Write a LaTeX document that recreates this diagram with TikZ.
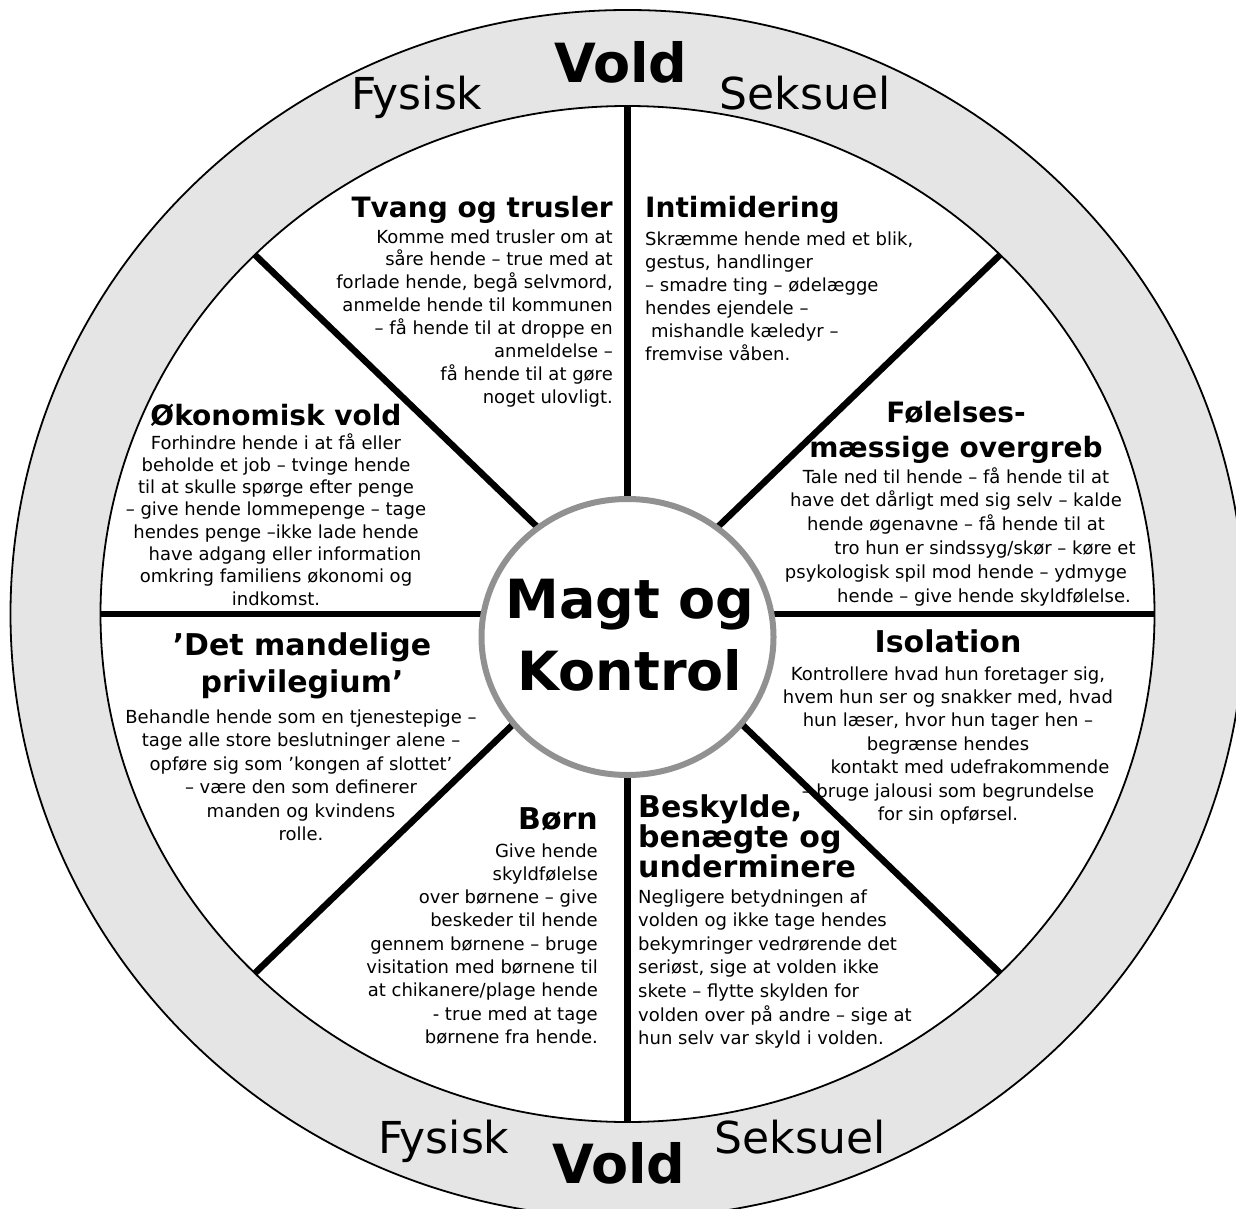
\documentclass[tikz,border=0pt]{standalone}
\usepackage{fontspec}
\setmainfont{DejaVu Sans}
\usetikzlibrary{calc}
\definecolor{ringgray}{RGB}{229,229,229}
\definecolor{hubgray}{RGB}{145,145,145}
\newcommand\bodyfnt{\fontsize{18}{22}\selectfont}
\newcommand\ttlfntA{\bfseries\fontsize{28}{30}\selectfont}
\newcommand\ttlfntB{\bfseries\fontsize{30}{32}\selectfont}
\newcommand\ringfnt{\fontsize{44}{48}\selectfont}
\newcommand\voldfnt{\bfseries\fontsize{54}{58}\selectfont}
\begin{document}
\begin{tikzpicture}[x=1pt,y=-1pt,
  body/.style={font=\bodyfnt, inner sep=0pt},
  ttla/.style={font=\ttlfntA, inner sep=0pt},
  ttlb/.style={font=\ttlfntB, inner sep=0pt},
  ringlbl/.style={font=\ringfnt, inner sep=0pt, anchor=base},
  voldlbl/.style={font=\voldfnt, inner sep=0pt, anchor=base},
  hubtxt/.style={font=\voldfnt, inner sep=0pt, anchor=base},
  spoke/.style={line width=6.5pt},
  rim/.style={draw=black, line width=1.8pt}]
\clip (0,0) rectangle (1236,1209);
\fill[white] (0,0) rectangle (1236,1209);
\coordinate (C) at (627.5,614);
\coordinate (H) at (627.5,637);
% ring
\filldraw[rim, fill=ringgray] (C) ellipse [x radius=617pt, y radius=604pt];
\filldraw[rim, fill=white] (C) ellipse [x radius=527pt, y radius=508pt];
% ring labels
\node[ringlbl] (fysT) at (417,110) {Fysisk};
\node[ringlbl] (sekT) at (805,110) {Seksuel};
\node[voldlbl] (voldT) at (621,83) {Vold};
\node[ringlbl] (fysB) at (444,1153) {Fysisk};
\node[ringlbl] (sekB) at (800,1153) {Seksuel};
\node[voldlbl] (voldB) at (619,1183) {Vold};
% Tvang og trusler
\node[ttla, anchor=base east] (tvT) at (613,218) {Tvang og trusler};
\foreach \t [count=\i] in {{Komme med trusler om at},{såre hende – true med at},{forlade hende, begå selvmord,},{anmelde hende til kommunen},{– få hende til at droppe en},{anmeldelse –},{få hende til at gøre},{noget ulovligt.}}
  \node[body, anchor=base east] (tv\i) at (613,{243+22.9*(\i-1)}) {\t};
% Intimidering
\node[ttla, anchor=base west] (inT) at (645,218) {Intimidering};
\foreach \t [count=\i] in {{Skræmme hende med et blik,},{gestus, handlinger},{– smadre ting – ødelægge},{hendes ejendele –},{\hspace*{6pt}mishandle kæledyr –},{fremvise våben.}}
  \node[body, anchor=base west] (in\i) at (645,{245+23*(\i-1)}) {\t};
% Økonomisk vold
\node[ttla, anchor=base] (okT) at (276,425) {Økonomisk vold};
\foreach \t [count=\i] in {{Forhindre hende i at få eller},{beholde et job – tvinge hende},{til at skulle spørge efter penge},{– give hende lommepenge – tage},{hendes penge –ikke lade hende},{\hspace*{18pt}have adgang eller information},{omkring familiens økonomi og},{indkomst.}}
  \node[body, anchor=base] (ok\i) at (276,{449+22.3*(\i-1)}) {\t};
% Følelsesmæssige overgreb
\node[ttla, anchor=base] (foT1) at (956,422) {Følelses-};
\node[ttla, anchor=base] (foT2) at (956,457) {mæssige overgreb};
\foreach \t [count=\i] in {{Tale ned til hende – få hende til at},{have det dårligt med sig selv – kalde},{hende øgenavne – få hende til at},{\hspace*{58pt}tro hun er sindssyg/skør – køre et},{psykologisk spil mod hende – ydmyge},{\hspace*{56pt}hende – give hende skyldfølelse.}}
  \node[body, anchor=base] (fo\i) at (956,{483+23.8*(\i-1)}) {\t};
% Det mandelige privilegium
\node[ttlb, anchor=base] (mpT1) at (302,655) {’Det mandelige};
\node[ttlb, anchor=base] (mpT2) at (302,692) {privilegium’};
\foreach \t [count=\i] in {{Behandle hende som en tjenestepige –},{tage alle store beslutninger alene –},{opføre sig som ’kongen af slottet’},{– være den som definerer},{manden og kvindens},{rolle.}}
  \node[body, anchor=base] (mp\i) at (301,{723+23.5*(\i-1)}) {\t};
% Isolation
\node[ttlb, anchor=base] (isT) at (948,652) {Isolation};
\foreach \t [count=\i] in {{Kontrollere hvad hun foretager sig,},{hvem hun ser og snakker med, hvad},{hun læser, hvor hun tager hen –},{begrænse hendes},{\hspace*{44pt}kontakt med udefrakommende},{– bruge jalousi som begrundelse},{for sin opførsel.}}
  \node[body, anchor=base] (is\i) at (948,{680+23.4*(\i-1)}) {\t};
% Børn
\node[ttlb, anchor=base east] (boT) at (598,829) {Børn};
\foreach \t [count=\i] in {{Give hende},{skyldfølelse},{over børnene – give},{beskeder til hende},{gennem børnene – bruge},{visitation med børnene til},{at chikanere/plage hende},{- true med at tage},{børnene fra hende.}}
  \node[body, anchor=base east] (bo\i) at (598,{857+23.3*(\i-1)}) {\t};
% Beskylde
\node[ttlb, anchor=base west] (beT1) at (638,817) {Beskylde,};
\node[ttlb, anchor=base west] (beT2) at (638,847) {benægte og};
\node[ttlb, anchor=base west] (beT3) at (638,877) {underminere};
\foreach \t [count=\i] in {{Negligere betydningen af},{volden og ikke tage hendes},{bekymringer vedrørende det},{seriøst, sige at volden ikke},{skete – flytte skylden for},{volden over på andre – sige at},{hun selv var skyld i volden.}}
  \node[body, anchor=base west] (be\i) at (638,{903+23.6*(\i-1)}) {\t};
% spokes
\foreach \a in {0,45,...,315}
  \draw[spoke] (C) -- ($(C)+(\a:527pt and 508pt)$);
% hub
\filldraw[fill=white, draw=hubgray, line width=6pt] (H) ellipse [x radius=146pt, y radius=138pt];
\node[hubtxt] (hub1) at (630,618) {Magt og};
\node[hubtxt] (hub2) at (630,690) {Kontrol};
\end{tikzpicture}
\end{document}
